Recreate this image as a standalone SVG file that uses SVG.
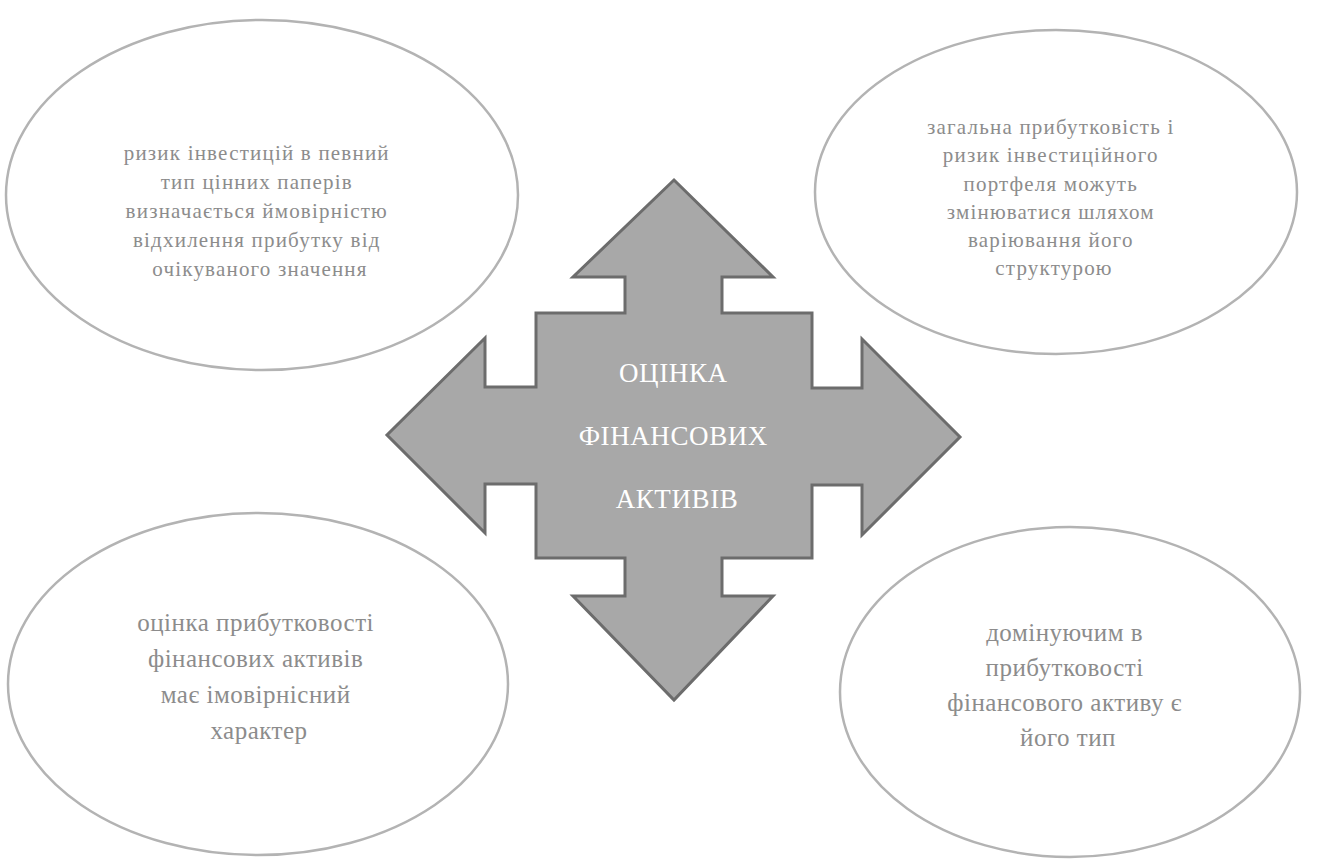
<svg xmlns="http://www.w3.org/2000/svg" width="1339" height="860" viewBox="0 0 1339 860">
  <style>
    .oval { fill: #ffffff; stroke: #b3b3b3; stroke-width: 2.5; }
    .small { font-family: "Liberation Serif", "DejaVu Serif", serif; font-size: 21px; fill: #8c8c8c; text-anchor: middle; letter-spacing: 1.2px; }
    .large { font-family: "Liberation Serif", "DejaVu Serif", serif; font-size: 25px; fill: #8c8c8c; text-anchor: middle; letter-spacing: 0.5px; }
    .hub { fill: #a8a8a8; stroke: #6c6c6c; stroke-width: 3; stroke-linejoin: miter; }
    .hub-label { font-family: "Liberation Serif", "DejaVu Serif", serif; font-size: 27px; fill: #ffffff; text-anchor: middle; letter-spacing: 0.6px; }
  </style>
  <rect width="1339" height="860" fill="#ffffff"/>

  <g id="node-risk">
    <ellipse class="oval" cx="262" cy="195" rx="256" ry="175"/>
    <text class="small">
      <tspan x="260" y="160">ризик інвестицій в певний</tspan>
      <tspan x="260" y="189">тип  цінних паперів</tspan>
      <tspan x="260" y="218">визначається  ймовірністю</tspan>
      <tspan x="260" y="247">відхилення прибутку від</tspan>
      <tspan x="260" y="276">очікуваного значення</tspan>
    </text>
  </g>

  <g id="node-portfolio">
    <ellipse class="oval" cx="1056" cy="192" rx="241" ry="162"/>
    <text class="small">
      <tspan x="1054" y="134">загальна прибутковість і</tspan>
      <tspan x="1054" y="162">ризик інвестиційного</tspan>
      <tspan x="1054" y="191">портфеля можуть</tspan>
      <tspan x="1054" y="219">змінюватися шляхом</tspan>
      <tspan x="1054" y="247">варіювання  його</tspan>
      <tspan x="1054" y="275">структурою</tspan>
    </text>
  </g>

  <g id="node-estimate">
    <ellipse class="oval" cx="258" cy="684" rx="250" ry="171"/>
    <text class="large">
      <tspan x="259" y="631">оцінка прибутковості</tspan>
      <tspan x="259" y="667">фінансових активів</tspan>
      <tspan x="259" y="703">має імовірнісний</tspan>
      <tspan x="259" y="739">характер</tspan>
    </text>
  </g>

  <g id="node-type">
    <ellipse class="oval" cx="1070" cy="692" rx="230" ry="165"/>
    <text class="large">
      <tspan x="1068" y="641">домінуючим в</tspan>
      <tspan x="1068" y="676">прибутковості</tspan>
      <tspan x="1068" y="711">фінансового активу є</tspan>
      <tspan x="1068" y="746">його тип</tspan>
    </text>
  </g>

  <g id="node-hub">
    <path class="hub" d="M674,180 L773,277 L722,277 L722,313 L812,313 L812,388 L862,388 L862,339 L960,437 L862,535 L862,485 L812,485 L812,558 L722,558 L722,596 L773,596 L674,700 L573,596 L625,596 L625,558 L536,558 L536,484 L485,484 L485,533 L387,435 L485,338 L485,387 L536,387 L536,313 L625,313 L625,277 L573,277 Z"/>
    <text class="hub-label">
      <tspan x="677" y="382">ОЦІНКА</tspan>
      <tspan x="677" y="445">ФІНАНСОВИХ</tspan>
      <tspan x="677" y="508">АКТИВІВ</tspan>
    </text>
  </g>

  <g id="connectors"></g>
</svg>
